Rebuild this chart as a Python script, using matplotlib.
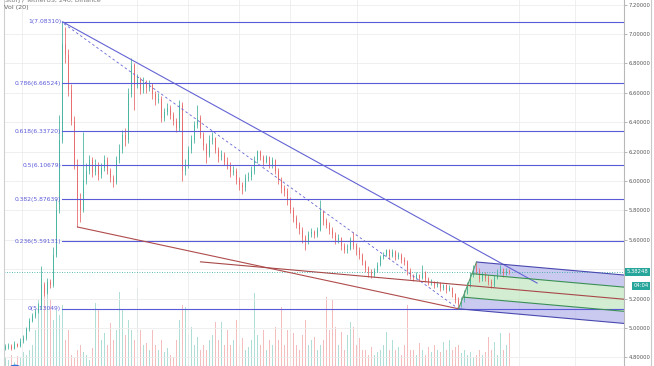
import matplotlib
matplotlib.use("Agg")
import matplotlib.pyplot as plt
from matplotlib.patches import Polygon, Circle

# 4h candles (price in USDT)
first_open = 4.86
closes = [
    4.87, 4.88, 4.86, 4.89, 4.88, 4.91, 4.93, 4.99, 5.05, 5.08,
    5.11, 5.14, 5.29, 5.24, 5.31, 5.29, 5.50, 5.80, 6.28, 6.93,
    6.86, 6.62, 6.41, 6.11, 5.87, 5.80, 6.01, 6.07, 6.14, 6.06,
    6.11, 6.04, 6.09, 6.14, 6.07, 6.02, 5.99, 6.14, 6.21, 6.31,
    6.28, 6.59, 6.79, 6.65, 6.69, 6.62, 6.67, 6.63, 6.65, 6.59,
    6.55, 6.56, 6.43, 6.47, 6.50, 6.45, 6.41, 6.36, 6.52, 6.07,
    6.11, 6.21, 6.28, 6.38, 6.43, 6.31, 6.24, 6.18, 6.28, 6.29,
    6.21, 6.16, 6.18, 6.13, 6.11, 6.06, 6.07, 6.01, 5.97, 5.95,
    6.02, 6.03, 6.07, 6.14, 6.20, 6.16, 6.13, 6.16, 6.11, 6.14,
    6.07, 6.01, 5.95, 5.93, 5.87, 5.80, 5.75, 5.70, 5.67, 5.61,
    5.59, 5.64, 5.65, 5.63, 5.67, 5.79, 5.73, 5.70, 5.67, 5.63,
    5.60, 5.61, 5.56, 5.53, 5.54, 5.60, 5.56, 5.53, 5.50, 5.45,
    5.41, 5.38, 5.36, 5.39, 5.43, 5.48, 5.50, 5.53, 5.49, 5.52,
    5.48, 5.50, 5.46, 5.45, 5.39, 5.35, 5.34, 5.36, 5.34, 5.38,
    5.33, 5.31, 5.31, 5.29, 5.30, 5.27, 5.29, 5.26, 5.27, 5.23,
    5.19, 5.16, 5.19, 5.24, 5.29, 5.36, 5.41, 5.39, 5.33, 5.36,
    5.34, 5.31, 5.29, 5.34, 5.38, 5.40, 5.37, 5.39, 5.38248,
]
highs = [
    4.89, 4.90, 4.89, 4.91, 4.90, 4.93, 4.95, 5.01, 5.07, 5.10,
    5.13, 5.17, 5.42, 5.31, 5.34, 5.33, 5.55, 5.88, 6.45, 7.0831,
    7.05, 6.90, 6.66, 6.44, 6.15, 5.92, 6.33, 6.12, 6.18, 6.16,
    6.15, 6.13, 6.12, 6.18, 6.16, 6.09, 6.04, 6.17, 6.25, 6.35,
    6.36, 6.63, 6.84, 6.80, 6.73, 6.71, 6.71, 6.69, 6.69, 6.67,
    6.61, 6.60, 6.58, 6.50, 6.53, 6.52, 6.47, 6.43, 6.55, 6.54,
    6.15, 6.24, 6.31, 6.41, 6.52, 6.45, 6.33, 6.26, 6.31, 6.33,
    6.30, 6.23, 6.21, 6.20, 6.16, 6.13, 6.10, 6.09, 6.03, 5.99,
    6.05, 6.06, 6.10, 6.17, 6.21, 6.21, 6.18, 6.18, 6.17, 6.16,
    6.15, 6.09, 6.03, 5.97, 5.95, 5.89, 5.82, 5.77, 5.72, 5.69,
    5.63, 5.66, 5.68, 5.67, 5.69, 5.87, 5.80, 5.75, 5.72, 5.69,
    5.65, 5.64, 5.62, 5.58, 5.57, 5.62, 5.65, 5.58, 5.55, 5.51,
    5.46, 5.42, 5.40, 5.41, 5.45, 5.50, 5.52, 5.54, 5.54, 5.54,
    5.53, 5.52, 5.51, 5.48, 5.46, 5.41, 5.37, 5.38, 5.37, 5.43,
    5.39, 5.35, 5.33, 5.32, 5.32, 5.31, 5.30, 5.30, 5.29, 5.28,
    5.24, 5.21, 5.21, 5.26, 5.31, 5.38, 5.43, 5.449, 5.41, 5.38,
    5.38, 5.36, 5.33, 5.36, 5.40, 5.43, 5.41, 5.41, 5.40,
]
lows = [
    4.85, 4.86, 4.85, 4.86, 4.87, 4.87, 4.90, 4.92, 4.98, 5.04,
    5.07, 5.10, 5.13, 5.22, 5.23, 5.27, 5.28, 5.48, 5.78, 6.26,
    6.80, 6.58, 6.38, 6.08, 5.687, 5.72, 5.79, 5.98, 6.05, 6.03,
    6.04, 6.01, 6.02, 6.07, 6.05, 5.99, 5.96, 5.98, 6.12, 6.19,
    6.24, 6.26, 6.57, 6.48, 6.63, 6.59, 6.60, 6.60, 6.61, 6.56,
    6.52, 6.53, 6.40, 6.41, 6.45, 6.42, 6.38, 6.33, 6.34, 6.00,
    6.04, 6.09, 6.19, 6.26, 6.36, 6.29, 6.21, 6.12, 6.16, 6.25,
    6.19, 6.13, 6.14, 6.11, 6.08, 6.03, 6.04, 5.98, 5.94, 5.91,
    5.93, 6.00, 6.01, 6.05, 6.12, 6.14, 6.10, 6.12, 6.09, 6.09,
    6.05, 5.98, 5.92, 5.90, 5.84, 5.78, 5.72, 5.68, 5.64, 5.58,
    5.53, 5.57, 5.62, 5.61, 5.62, 5.66, 5.70, 5.68, 5.64, 5.61,
    5.57, 5.58, 5.53, 5.51, 5.51, 5.53, 5.54, 5.50, 5.47, 5.43,
    5.38, 5.35, 5.34, 5.35, 5.38, 5.42, 5.47, 5.49, 5.47, 5.48,
    5.46, 5.47, 5.44, 5.43, 5.36, 5.33, 5.32, 5.33, 5.32, 5.33,
    5.31, 5.29, 5.29, 5.27, 5.28, 5.25, 5.26, 5.24, 5.25, 5.21,
    5.17, 5.1305, 5.14, 5.18, 5.23, 5.28, 5.35, 5.37, 5.31, 5.32,
    5.32, 5.29, 5.27, 5.28, 5.33, 5.37, 5.35, 5.36, 5.37,
]
volumes = [
    22, 20, 25, 18, 24, 22, 28, 25, 30, 35,
    50, 80, 105, 90, 95, 80, 60, 70, 65, 75,
    40, 50, 25, 22, 30, 35, 28, 25, 20, 32,
    77, 70, 40, 47, 35, 57, 40, 50, 88, 70,
    45, 60, 50, 40, 92, 50, 35, 37, 30, 50,
    35, 30, 40, 28, 32, 25, 23, 40, 60, 75,
    73, 45, 53, 35, 43, 30, 35, 30, 40, 45,
    58, 40, 58, 35, 50, 35, 40, 60, 35, 42,
    30, 33, 40, 87, 45, 35, 50, 30, 40, 35,
    53, 40, 73, 35, 50, 53, 47, 35, 30, 45,
    60, 35, 40, 43, 30, 35, 40, 83, 50, 80,
    53, 35, 48, 30, 45, 58, 53, 35, 42, 30,
    30, 25, 33, 25, 28, 30, 35, 48, 30, 40,
    30, 33, 25, 35, 75, 30, 30, 25, 37, 30,
    25, 33, 28, 35, 30, 28, 38, 30, 40, 30,
    33, 35, 27, 30, 25, 28, 23, 25, 30, 25,
    28, 43, 30, 38, 25, 47, 30, 35, 47,
]

# drawings: fib retracement, trend lines, pitchfork (x = candle index)
fib_high = 7.08310
fib_low = 5.13049
fib_ratios = [1, 0.786, 0.618, 0.5, 0.382, 0.236, 0]
fib_start = 19

trend_solid = [(19, 7.0831), (177.2, 5.306)]
trend_dashed = [(19.5, 7.07), (151, 5.1305)]
trend_red = [(24, 5.687), (151, 5.1305)]

pf_a = (65, 5.45)
pf_b = (151, 5.1305)
pf_c = (157, 5.449)

price_ticks = [4.8, 5.0, 5.2, 5.4, 5.6, 5.8, 6.0, 6.2, 6.4, 6.6, 6.8, 7.0, 7.2]
grid_x = [5.5, 43.8, 60.8, 77.8, 94.8, 117.2, 171.2, 189.8]
last_price = 5.38248
countdown = "04:04"

UP = '#4db6a2'
DOWN = '#e86f6f'
FIB = '#5a5ad8'

W, H = 654, 366
fig = plt.figure(figsize=(W / 100, H / 100), dpi=100)
rect = [4 / W, 0, 620 / W, 1]
xmin, xmax = -0.5, 206.17

# volume pane underneath
vax = fig.add_axes(rect)
vax.set_xlim(xmin, xmax)
vax.set_ylim(14, 380)
vax.axis('off')

ax = fig.add_axes(rect)
ax.patch.set_visible(False)
ax.set_xlim(xmin, xmax)
ax.set_ylim(4.7415, 7.2313)

idx = list(range(len(closes)))
opens = [first_open] + closes[:-1]
colors = [UP if c >= o else DOWN for o, c in zip(opens, closes)]

vax.bar(idx, volumes, width=0.55, color=colors, alpha=0.45, linewidth=0)

# grid
for p in price_ticks:
    ax.axhline(p, color='#ececec', lw=0.6, zorder=0)
for gx in grid_x:
    ax.axvline(gx, color='#ececec', lw=0.6, zorder=0)

# candles
ax.vlines(idx, lows, highs, colors=colors, lw=0.6, zorder=3)
bottoms = [min(o, c) for o, c in zip(opens, closes)]
heights = [max(abs(c - o), 0.006) for o, c in zip(opens, closes)]
ax.bar(idx, heights, bottom=bottoms, width=0.6, color=colors, linewidth=0, zorder=3)

# current price line
ax.axhline(last_price, color='#26a69a', lw=0.6, ls=(0, (1, 2)), zorder=2)

# fib retracement
for r in fib_ratios:
    p = fib_low + r * (fib_high - fib_low)
    ax.plot([fib_start, xmax], [p, p], color=FIB, lw=0.8, zorder=4)
    ax.annotate(f"{r:g}({p:.5f})", (fib_start, p), xytext=(-1, 0),
                textcoords='offset points', ha='right', va='center',
                fontsize=4.3, color=FIB, zorder=5)

# trend lines
ax.plot(*zip(*trend_solid), color='#6464d4', lw=0.8, zorder=4)
ax.plot(*zip(*trend_dashed), color='#6464d4', lw=0.6, ls=(0, (3, 3)), zorder=4)
ax.plot(*zip(*trend_red), color='#b04c4c', lw=0.8, zorder=4)

# pitchfork
ax0, ay0 = pf_a
bx, by = pf_b
cx, cy = pf_c
mx, my = (bx + cx) / 2, (by + cy) / 2
slope = (my - ay0) / (mx - ax0)


def end_of(x0, y0):
    return (xmax, y0 + slope * (xmax - x0))


ui = ((mx + cx) / 2, (my + cy) / 2)
li = ((mx + bx) / 2, (my + by) / 2)
c_end, b_end = end_of(cx, cy), end_of(bx, by)
ui_end, li_end = end_of(*ui), end_of(*li)

ax.add_patch(Polygon([pf_c, c_end, ui_end, ui], closed=True,
                     facecolor='#b4b4ea', alpha=0.7, lw=0, zorder=1))
ax.add_patch(Polygon([ui, ui_end, li_end, li], closed=True,
                     facecolor='#bfe6bf', alpha=0.7, lw=0, zorder=1))
ax.add_patch(Polygon([li, li_end, b_end, pf_b], closed=True,
                     facecolor='#b4b4ea', alpha=0.7, lw=0, zorder=1))

ax.plot([ax0, xmax], [ay0, end_of(ax0, ay0)[1]], color='#a84848', lw=0.8, zorder=4)
for start, end in [(pf_c, c_end), (pf_b, b_end)]:
    ax.plot([start[0], end[0]], [start[1], end[1]], color='#4848b0', lw=0.8, zorder=4)
for start, end in [(ui, ui_end), (li, li_end)]:
    ax.plot([start[0], end[0]], [start[1], end[1]], color='#3b8f55', lw=0.8, zorder=4)
ax.plot([bx, cx], [by, cy], color='#5a9a6a', lw=0.8, zorder=4)

# price scale on the right (the 5.4 label sits under the last-price tag)
for s in ['top', 'bottom']:
    ax.spines[s].set_visible(False)
ax.spines['right'].set_color('#b8b8b8')
ax.spines['left'].set_color('#cfcfcf')
ax.spines['right'].set_linewidth(0.8)
ax.spines['left'].set_linewidth(0.8)
ax.set_xticks([])
ax.set_yticks(price_ticks)
ax.set_yticklabels(["" if abs(p - last_price) < 0.05 else f"{p:.5f}" for p in price_ticks])
ax.tick_params(axis='y', left=False, labelleft=False, right=True, labelright=True,
               length=2, width=0.5, color='#999999', labelsize=3.8,
               labelcolor='#555555', pad=1.5)

tr = ax.get_yaxis_transform()
ax.text(1.004, last_price, f"{last_price:.5f}", transform=tr, ha='left', va='center',
        fontsize=3.8, color='white', zorder=6,
        bbox=dict(boxstyle='square,pad=0.3', fc='#26a69a', ec='none'))
ax.annotate(countdown, (1.015, last_price), xycoords=tr, xytext=(0, -10),
            textcoords='offset points', ha='left', va='center', fontsize=3.8,
            color='white', zorder=6,
            bbox=dict(boxstyle='square,pad=0.3', fc='#26a69a', ec='none'))

# frame on the right edge
fig.add_artist(plt.Line2D([651 / W, 651 / W], [0, 1], color='#c8c8c8', lw=0.8))

# legend texts top-left (first line is cut by the top edge, as in the screenshot)
fig.text(5 / W, 1 - 0.5 / H, "Storj / TetherUS, 240, Binance", ha='left', va='center',
         fontsize=4.6, color='#777777')
fig.text(4 / W, 1 - 8 / H, "Vol (20)", ha='left', va='center',
         fontsize=4.6, color='#666666')

# logo in the corner
fig.add_artist(Circle((15 / W, 1 - 368 / H), 6 / W, transform=fig.transFigure,
                      facecolor='#2f6fd8', edgecolor='none'))

fig.savefig("out.png", dpi=100)
